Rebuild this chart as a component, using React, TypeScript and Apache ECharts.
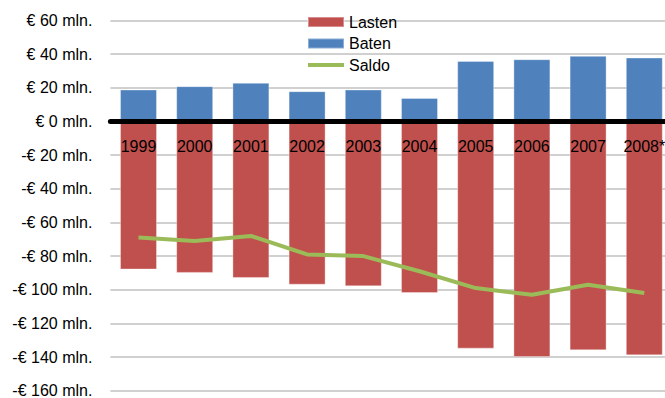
import React, { useEffect, useRef } from "react";
import * as echarts from "echarts";

const categories = ["1999", "2000", "2001", "2002", "2003", "2004", "2005", "2006", "2007", "2008*"];
const lasten = [-88, -90, -93, -97, -98, -102, -135, -140, -136, -139];
const baten = [19, 21, 23, 18, 19, 14, 36, 37, 39, 38];
const saldo = [-69, -71, -68, -79, -80, -89, -99, -103, -97, -102];

const FONT = "Liberation Sans";
const Y_MIN = -160;
const Y_MAX = 60;
const GRID_TOP = 20.5;
const GRID_BOTTOM = 7.3;
const CHART_H = 398;

function fmt(v: number): string {
  if (v < 0) return "-€ " + Math.abs(v) + " mln.";
  return "€ " + v + " mln.";
}

export default function App() {
  const ref = useRef<HTMLDivElement>(null);
  useEffect(() => {
    document.body.style.margin = "0";
    const chart = echarts.init(ref.current!, null, { renderer: "svg" });
    const plotH = CHART_H - GRID_TOP - GRID_BOTTOM;
    const zeroOffset = (plotH * (0 - Y_MIN)) / (Y_MAX - Y_MIN);
    chart.setOption({
      animation: false,
      backgroundColor: "#ffffff",
      textStyle: { fontFamily: FONT },
      grid: {
        left: 110.4,
        right: -7.4,
        top: GRID_TOP,
        bottom: GRID_BOTTOM,
        containLabel: false,
        outerBoundsMode: "none",
      },
      legend: {
        orient: "vertical",
        left: 301,
        top: 9,
        itemWidth: 36,
        itemHeight: 10,
        itemGap: 5.5,
        textStyle: { fontFamily: FONT, fontSize: 16, color: "#000" },
        data: [
          { name: "Lasten", icon: "rect" },
          { name: "Baten", icon: "rect" },
          {
            name: "Saldo",
            itemStyle: { color: "rgba(0,0,0,0)", borderWidth: 0, opacity: 0 },
            lineStyle: { width: 4, color: "#9BBB59" },
          },
        ],
      },
      xAxis: {
        type: "category",
        data: categories,
        z: 5,
        position: "bottom",
        offset: -zeroOffset,
        axisLine: { onZero: false, lineStyle: { color: "#000", width: 5 } },
        axisTick: { show: false },
        axisLabel: { margin: 17, fontSize: 16, color: "#000", fontFamily: FONT },
        splitLine: { show: false },
      },
      yAxis: {
        type: "value",
        min: Y_MIN,
        max: Y_MAX,
        interval: 20,
        axisLine: { show: false },
        axisTick: { show: false },
        axisLabel: {
          margin: 18,
          fontSize: 16,
          color: "#000",
          fontFamily: FONT,
          formatter: (v: number) => fmt(v),
        },
        splitLine: { lineStyle: { color: "#c0c0c0", width: 1.5 } },
      },
      series: [
        {
          name: "Lasten",
          type: "bar",
          data: lasten,
          barWidth: 37,
          barGap: "-100%",
          itemStyle: { color: "#C0504D", borderColor: "rgba(255,255,255,0.35)", borderWidth: 1 },
        },
        {
          name: "Baten",
          type: "bar",
          data: baten,
          barWidth: 37,
          barGap: "-100%",
          itemStyle: { color: "#4F81BD", borderColor: "rgba(255,255,255,0.35)", borderWidth: 1 },
        },
        {
          name: "Saldo",
          type: "line",
          data: saldo,
          symbol: "none",
          z: 3,
          lineStyle: { color: "#9BBB59", width: 4 },
          itemStyle: { color: "#9BBB59" },
        },
      ],
    });
    return () => chart.dispose();
  }, []);
  return <div ref={ref} style={{ width: 665, height: 398 }} />;
}
